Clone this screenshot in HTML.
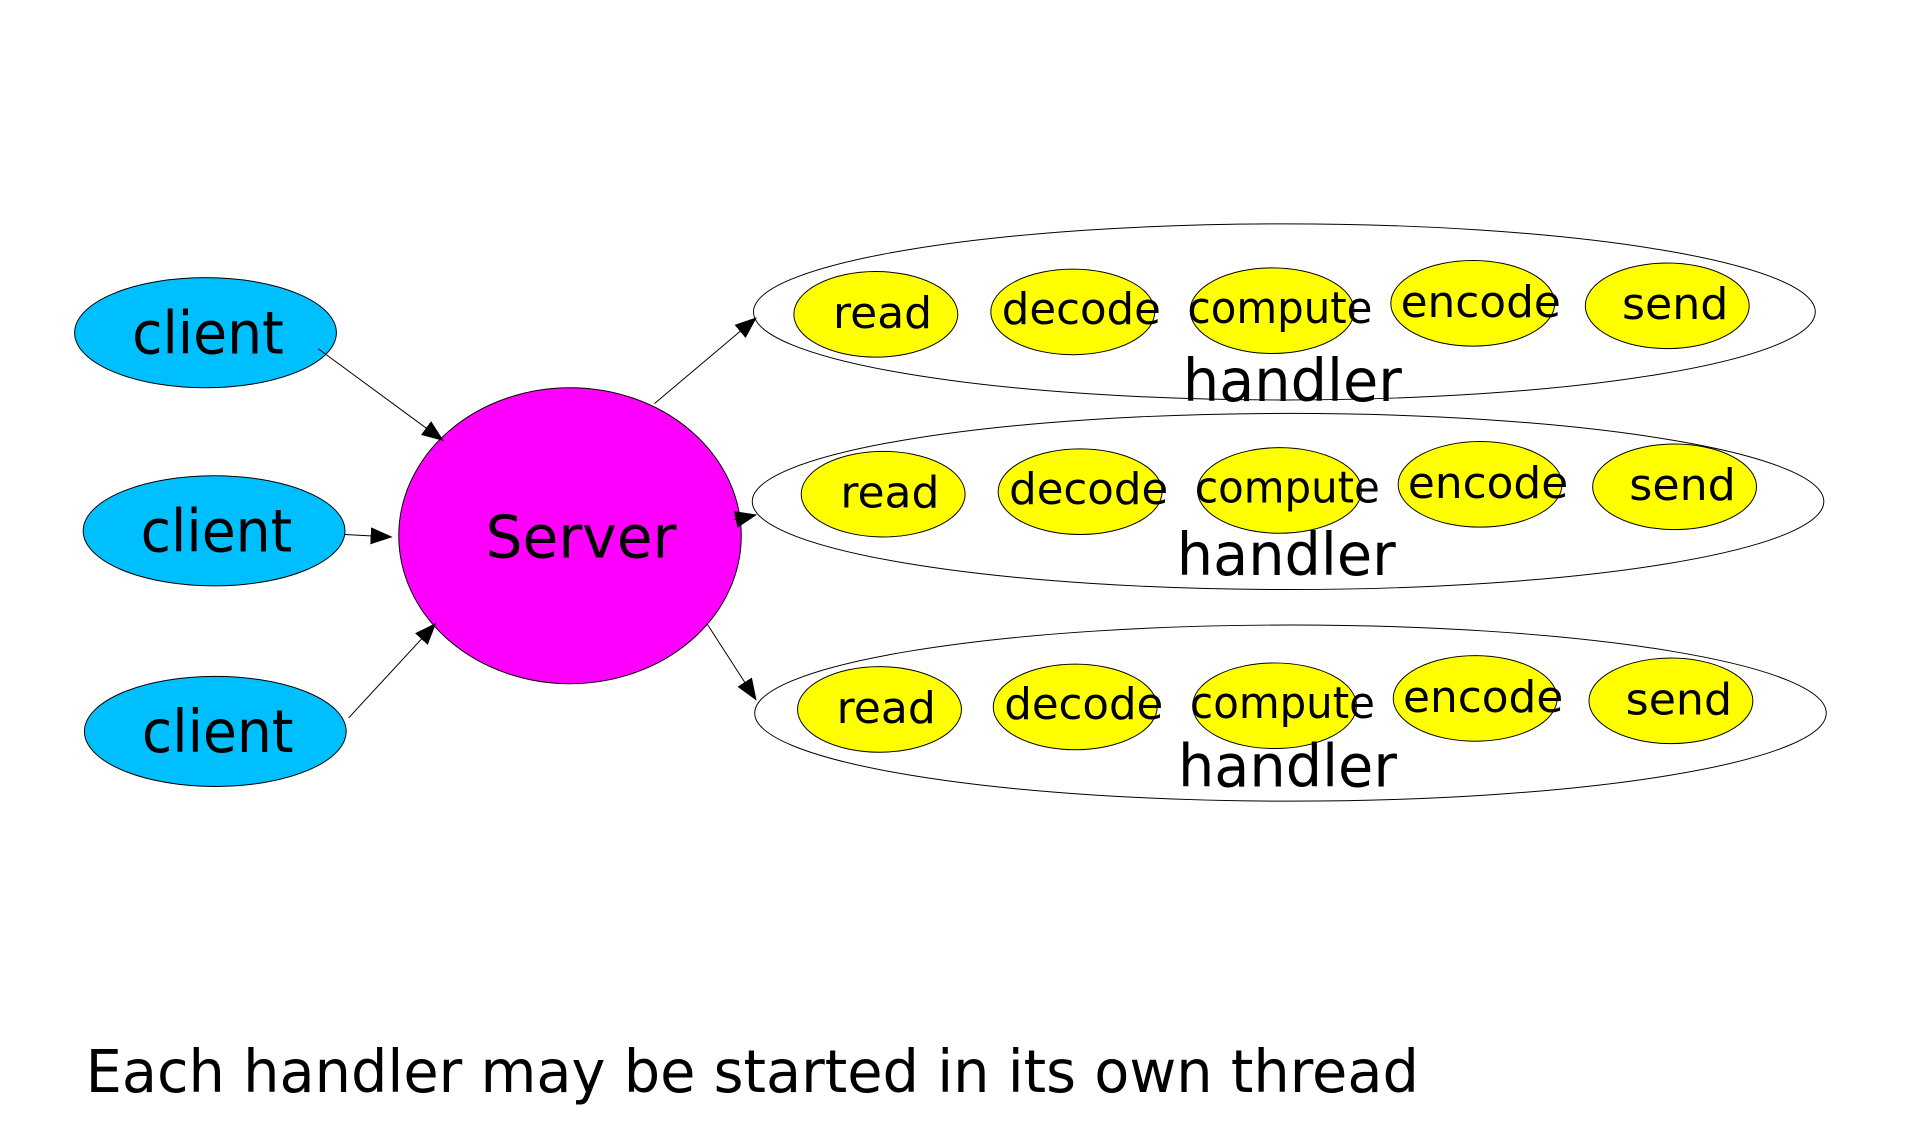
<!DOCTYPE html>
<html><head><meta charset="utf-8"><style>
html,body{margin:0;padding:0;background:#fff;}
svg{display:block;}
text{font-family:"DejaVu Sans","Liberation Sans",sans-serif;fill:#000;}
</style></head><body>
<svg width="1918" height="1132" viewBox="0 0 1568 925.5" preserveAspectRatio="none" xmlns="http://www.w3.org/2000/svg">
<defs><marker id="b" markerWidth="18" markerHeight="14" refX="17" refY="7" orient="auto" markerUnits="userSpaceOnUse"><path d="M0,0 L18,7 L0,14 z" fill="#000"/></marker></defs>
<g stroke="#000" stroke-width="0.8">
<ellipse cx="168" cy="272" rx="107" ry="45" fill="#00bfff"/>
<ellipse cx="175" cy="434" rx="107" ry="45" fill="#00bfff"/>
<ellipse cx="176" cy="598" rx="107" ry="45" fill="#00bfff"/>
<ellipse cx="466" cy="438" rx="140" ry="121" fill="#ff00ff"/>
<ellipse cx="1050" cy="255" rx="434" ry="72" fill="none"/>
<ellipse cx="1053" cy="410" rx="438" ry="72" fill="none"/>
<ellipse cx="1055" cy="583" rx="438" ry="72" fill="none"/>
<line x1="260" y1="285" x2="362" y2="360" marker-end="url(#b)"/>
<line x1="282" y1="437" x2="320" y2="439" marker-end="url(#b)"/>
<line x1="285" y1="587" x2="356" y2="510" marker-end="url(#b)"/>
<line x1="535" y1="330" x2="618" y2="260" marker-end="url(#b)"/>
<line x1="600" y1="425" x2="618" y2="421" marker-end="url(#b)"/>
<line x1="578" y1="510" x2="618" y2="572" marker-end="url(#b)"/>
<g fill="#ffff00">
<ellipse cx="716" cy="257" rx="67" ry="35"/><ellipse cx="877" cy="255" rx="67" ry="35"/><ellipse cx="1040" cy="254" rx="67" ry="35"/><ellipse cx="1204" cy="248" rx="67" ry="35"/><ellipse cx="1363" cy="250" rx="67" ry="35"/>
<ellipse cx="722" cy="404" rx="67" ry="35"/><ellipse cx="883" cy="402" rx="67" ry="35"/><ellipse cx="1046" cy="401" rx="67" ry="35"/><ellipse cx="1210" cy="396" rx="67" ry="35"/><ellipse cx="1369" cy="398" rx="67" ry="35"/>
<ellipse cx="719" cy="580" rx="67" ry="35"/><ellipse cx="879" cy="578" rx="67" ry="35"/><ellipse cx="1042" cy="577" rx="67" ry="35"/><ellipse cx="1206" cy="571" rx="67" ry="35"/><ellipse cx="1366" cy="573" rx="67" ry="35"/>
</g></g>
<g font-size="48">
<text x="108" y="289" textLength="124" lengthAdjust="spacingAndGlyphs">client</text>
<text x="115" y="451" textLength="124" lengthAdjust="spacingAndGlyphs">client</text>
<text x="116" y="615" textLength="124" lengthAdjust="spacingAndGlyphs">client</text>
<text x="397" y="456" textLength="156" lengthAdjust="spacingAndGlyphs">Server</text>
<text x="967" y="328" textLength="179" lengthAdjust="spacingAndGlyphs">handler</text>
<text x="962" y="470" textLength="179" lengthAdjust="spacingAndGlyphs">handler</text>
<text x="963" y="643" textLength="179" lengthAdjust="spacingAndGlyphs">handler</text>
<text x="70" y="893" textLength="1090" lengthAdjust="spacingAndGlyphs">Each handler may be started in its own thread</text>
</g>
<g font-size="36">
<text x="681" y="268" textLength="81" lengthAdjust="spacingAndGlyphs">read</text>
<text x="819" y="265" textLength="130" lengthAdjust="spacingAndGlyphs">decode</text>
<text x="971" y="264" textLength="151" lengthAdjust="spacingAndGlyphs">compute</text>
<text x="1145" y="259" textLength="131" lengthAdjust="spacingAndGlyphs">encode</text>
<text x="1326" y="261" textLength="87" lengthAdjust="spacingAndGlyphs">send</text>
<text x="687" y="415" textLength="81" lengthAdjust="spacingAndGlyphs">read</text>
<text x="825" y="412" textLength="130" lengthAdjust="spacingAndGlyphs">decode</text>
<text x="977" y="411" textLength="151" lengthAdjust="spacingAndGlyphs">compute</text>
<text x="1151" y="407" textLength="131" lengthAdjust="spacingAndGlyphs">encode</text>
<text x="1332" y="409" textLength="87" lengthAdjust="spacingAndGlyphs">send</text>
<text x="684" y="591" textLength="81" lengthAdjust="spacingAndGlyphs">read</text>
<text x="821" y="588" textLength="130" lengthAdjust="spacingAndGlyphs">decode</text>
<text x="973" y="587" textLength="151" lengthAdjust="spacingAndGlyphs">compute</text>
<text x="1147" y="582" textLength="131" lengthAdjust="spacingAndGlyphs">encode</text>
<text x="1329" y="584" textLength="87" lengthAdjust="spacingAndGlyphs">send</text>
</g>
</svg>
</body></html>
